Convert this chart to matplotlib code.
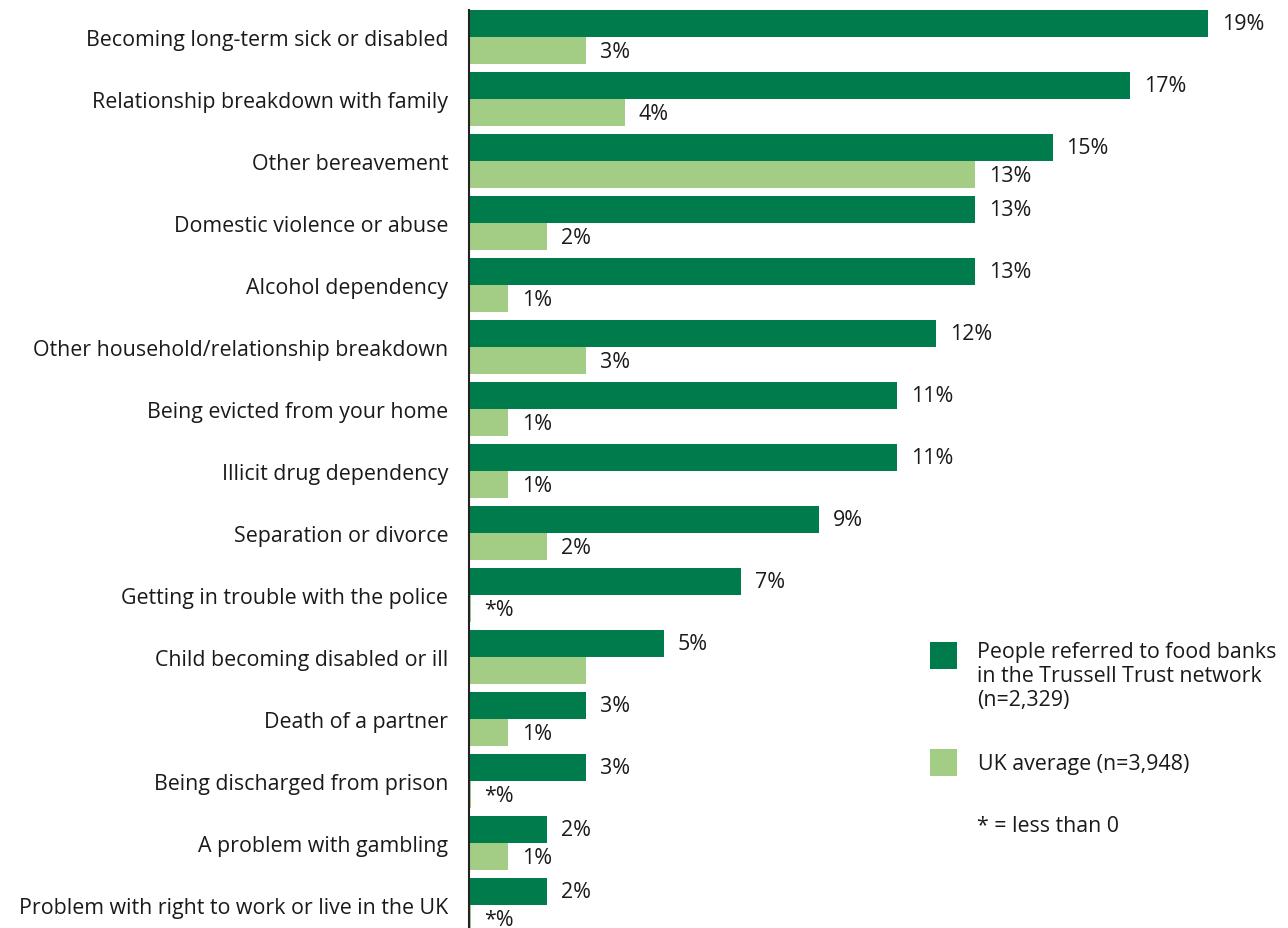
import matplotlib
matplotlib.use("Agg")
import matplotlib.pyplot as plt
from matplotlib.patches import Rectangle
import numpy as np

plt.rcParams['font.family'] = ['Open Sans', 'DejaVu Sans']

categories = [
    "Becoming long-term sick or disabled",
    "Relationship breakdown with family",
    "Other bereavement",
    "Domestic violence or abuse",
    "Alcohol dependency",
    "Other household/relationship breakdown",
    "Being evicted from your home",
    "Illicit drug dependency",
    "Separation or divorce",
    "Getting in trouble with the police",
    "Child becoming disabled or ill",
    "Death of a partner",
    "Being discharged from prison",
    "A problem with gambling",
    "Problem with right to work or live in the UK",
]
foodbank = [19, 17, 15, 13, 13, 12, 11, 11, 9, 7, 5, 3, 3, 2, 2]
uk_avg = [3, 4, 13, 2, 1, 3, 1, 1, 2, 0.04, 3, 1, 0.04, 1, 0.04]
foodbank_labels = ["19%", "17%", "15%", "13%", "13%", "12%", "11%", "11%", "9%", "7%",
                   "5%", "3%", "3%", "2%", "2%"]
uk_labels = ["3%", "4%", "13%", "2%", "1%", "3%", "1%", "1%", "2%", "*%",
             "", "1%", "*%", "1%", "*%"]

series_names = ["People referred to food banks\nin the Trussell Trust network\n(n=2,329)",
                "UK average (n=3,948)"]
note = "* = less than 0"

DARK = "#007B4C"
LIGHT = "#A3CC85"
TEXT = "#1a1a1a"
FS = 15.4

W, H = 1288, 929
fig = plt.figure(figsize=(W / 100, H / 100), dpi=100)
ax = fig.add_axes([469 / W, 0, 1 - 469 / W, 1])

y = np.arange(len(categories))
bh = 27 / 62
ax.barh(y - bh / 2, foodbank, height=bh, color=DARK, edgecolor="none")
ax.barh(y + bh / 2, uk_avg, height=bh, color=LIGHT, edgecolor="none")

ax.set_ylim(14 + 23 / 62, -38 / 62)
ax.set_xlim(0, (W - 469) / 38.9)

off = 0.36
for i in range(len(categories)):
    ax.text(foodbank[i] + off, y[i] - bh / 2, foodbank_labels[i], va="center", ha="left",
            fontsize=FS, color=TEXT)
    if uk_labels[i]:
        ax.text(uk_avg[i] + off, y[i] + bh / 2 + 0.02, uk_labels[i], va="center", ha="left",
                fontsize=FS, color=TEXT)

ax.set_yticks(y)
ax.set_yticklabels(categories, fontsize=FS, color=TEXT)
ax.tick_params(axis="y", length=0, pad=15)
ax.set_xticks([])
for s in ["top", "right", "bottom"]:
    ax.spines[s].set_visible(False)
ax.spines["left"].set_color("#222222")
ax.spines["left"].set_linewidth(1.5)
ax.spines["left"].set_bounds(14 + 23 / 62, -27 / 62)

# legend
def px(x, yy):
    return x / W, 1 - yy / H

for (x0, y0), col in [((930, 643), DARK), ((930, 750), LIGHT)]:
    fig.add_artist(Rectangle(px(x0, y0 + 27), 27 / W, 27 / H, transform=fig.transFigure,
                             color=col, linewidth=0))
fig.text(*px(977, 642), series_names[0], fontsize=FS, color=TEXT, va="top", ha="left",
         linespacing=1.2)
fig.text(*px(978, 765), series_names[1], fontsize=FS, color=TEXT, va="center", ha="left")
fig.text(*px(977, 827), note, fontsize=FS, color=TEXT, va="center", ha="left")

fig.savefig("out.png", dpi=100)
